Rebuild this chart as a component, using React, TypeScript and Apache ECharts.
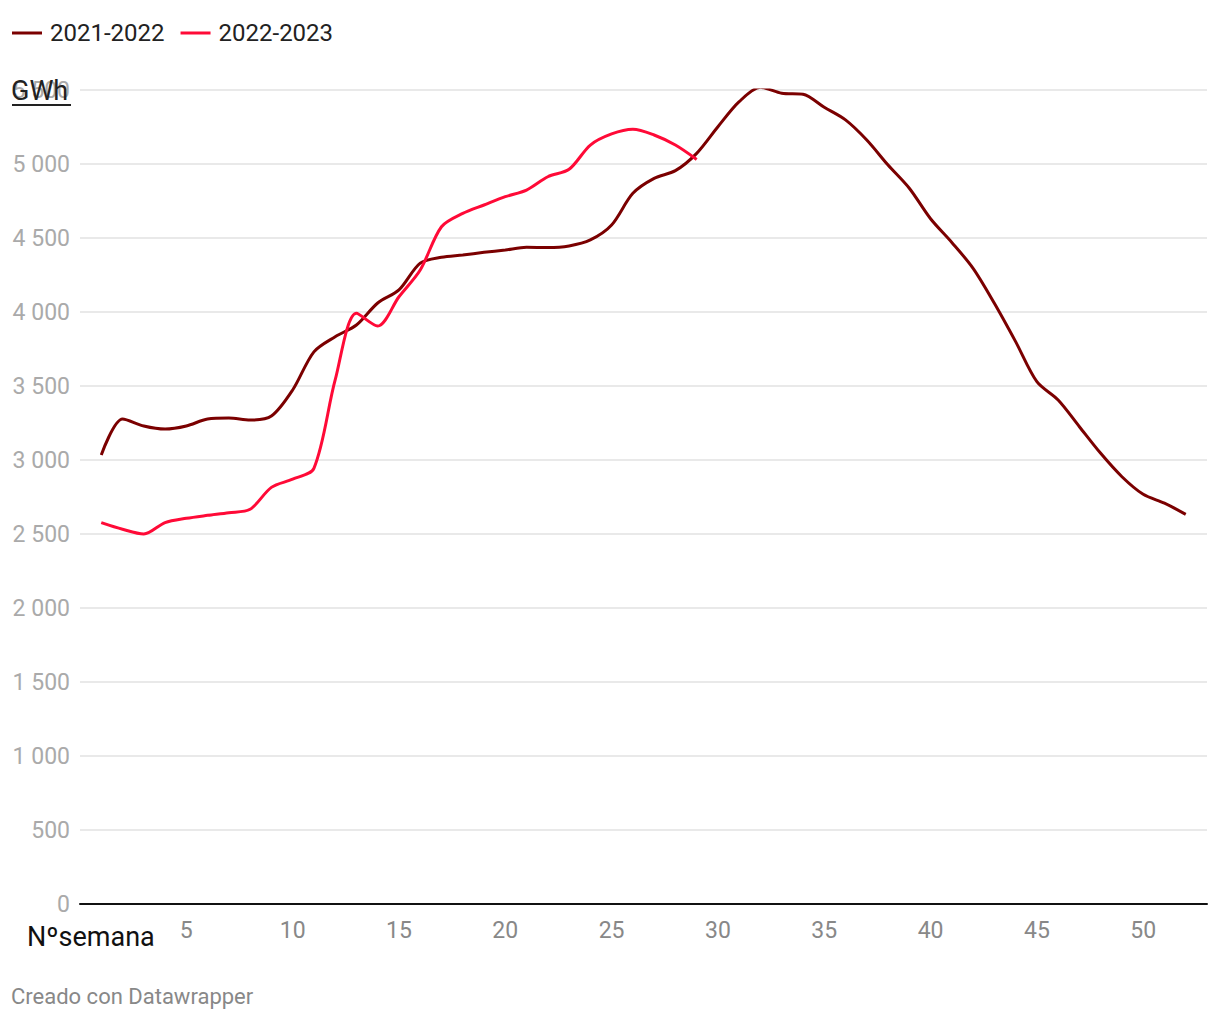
import React, { useEffect, useRef } from "react";
import * as echarts from "echarts";

const weeks2122 = Array.from({ length: 52 }, (_, i) => i + 1);
const values2122 = [
  3034, 3277, 3230, 3209, 3230, 3277, 3284, 3270, 3297, 3473,
  3731, 3833, 3912, 4061, 4149, 4330, 4370, 4385, 4403, 4419,
  4437, 4435, 4446, 4487, 4588, 4802, 4903, 4955, 5072, 5252,
  5421, 5518, 5478, 5471, 5383, 5298, 5162, 4993, 4836, 4630,
  4470, 4295, 4059, 3800, 3529, 3405, 3225, 3045, 2887, 2768,
  2708, 2633,
];
const weeks2223 = Array.from({ length: 29 }, (_, i) => i + 1);
const values2223 = [
  2577, 2532, 2500, 2577, 2606, 2626, 2644, 2667, 2815, 2870,
  2944, 3541, 3991, 3905, 4103, 4284, 4576, 4666, 4723, 4779,
  4824, 4914, 4964, 5128, 5203, 5235, 5196, 5128, 5031,
];
const seriesNames = ["2021-2022", "2022-2023"];
const seriesColors = ["#7b0000", "#ff0a37"];

export default function App() {
  const ref = useRef<HTMLDivElement>(null);
  useEffect(() => {
    if (!ref.current) return;
    const chart = echarts.init(ref.current, null, { renderer: "svg" });
    const font = "Roboto, 'Noto Sans', sans-serif";
    chart.setOption({
      animation: false,
      textStyle: { fontFamily: font },
      legend: {
        left: 7,
        top: 16,
        itemWidth: 30,
        itemHeight: 3,
        itemGap: 16,
        icon: "rect",
        textStyle: {
          fontSize: 24,
          color: "#222",
          fontFamily: font,
          padding: [0, 0, 0, 3],
        },
        data: seriesNames,
      },
      grid: { left: 80, right: 13, top: 90, bottom: 116, containLabel: false },
      xAxis: {
        type: "value",
        min: 0,
        max: 53,
        interval: 5,
        axisLine: { show: true, lineStyle: { color: "#111", width: 2 } },
        axisTick: { show: false },
        splitLine: { show: false },
        axisLabel: {
          showMinLabel: false,
          showMaxLabel: false,
          fontSize: 23,
          color: "#888",
          margin: 15,
          fontFamily: font,
          formatter: (v: number) => (v === 0 ? "" : String(v)),
        },
      },
      yAxis: {
        type: "value",
        min: 0,
        max: 5500,
        interval: 500,
        axisLine: { show: false },
        axisTick: { show: false },
        splitLine: { lineStyle: { color: "#e2e2e2", width: 1.5 } },
        axisLabel: {
          fontSize: 23,
          color: "#aaa",
          margin: 10,
          fontFamily: font,
          formatter: (v: number) =>
            String(v).replace(/\B(?=(\d{3})+(?!\d))/g, " "),
        },
      },
      graphic: [
        {
          type: "text",
          left: 11,
          top: 77,
          z: 100,
          style: { text: "GWh", fontSize: 27, fill: "#222", fontFamily: font },
        },
        {
          type: "line",
          z: 100,
          shape: { x1: 12, y1: 105, x2: 71, y2: 105 },
          style: { stroke: "#222", lineWidth: 2 },
        },
        {
          type: "text",
          left: 27,
          top: 923,
          style: { text: "Nºsemana", fontSize: 27, fill: "#111", fontFamily: font },
        },
        {
          type: "text",
          left: 11,
          top: 985,
          style: {
            text: "Creado con Datawrapper",
            fontSize: 22,
            fill: "#888",
            fontFamily: font,
          },
        },
      ],
      series: [
        {
          name: seriesNames[0],
          type: "line",
          data: weeks2122.map((w, i) => [w, values2122[i]]),
          smooth: 0.3,
          showSymbol: false,
          symbol: "none",
          lineStyle: { color: seriesColors[0], width: 3 },
          itemStyle: { color: seriesColors[0] },
        },
        {
          name: seriesNames[1],
          type: "line",
          data: weeks2223.map((w, i) => [w, values2223[i]]),
          smooth: 0.3,
          showSymbol: false,
          symbol: "none",
          lineStyle: { color: seriesColors[1], width: 3 },
          itemStyle: { color: seriesColors[1] },
        },
      ],
    });
    return () => chart.dispose();
  }, []);
  return <div ref={ref} style={{ width: 1220, height: 1020, marginLeft: -8, marginTop: -8 }} />;
}
